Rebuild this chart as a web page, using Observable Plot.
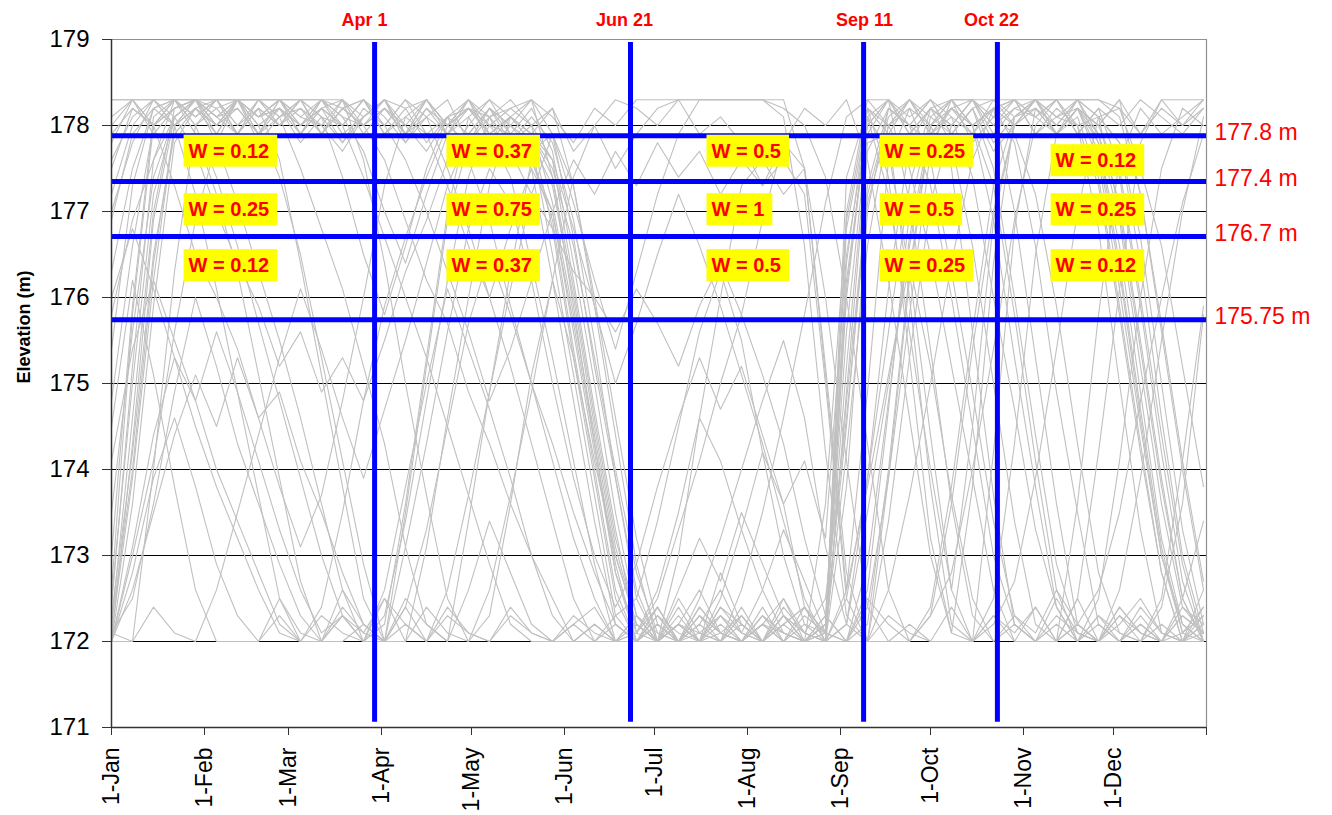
<!DOCTYPE html>
<html>
<head>
<meta charset="utf-8">
<script src="https://cdn.jsdelivr.net/npm/d3@7"></script>
<script src="https://cdn.jsdelivr.net/npm/@observablehq/plot@0.6"></script>
<style>
  html, body { margin: 0; padding: 0; background: #ffffff; }
  #chart { width: 1332px; height: 815px; }
</style>
</head>
<body>
<div id="chart"></div>
<script>
// ---------- data ----------
const weekDays = [0,7,14,21,28,35,42,49,56,63,70,77,84,91,98,105,112,119,126,133,140,147,154,161,168,175,182,189,196,203,210,217,224,231,238,245,252,259,266,273,280,287,294,301,308,315,322,329,336,343,350,357,364];

const monthStarts = [0,31,59,90,120,151,181,212,243,273,304,334];
const monthLabels = ["1-Jan","1-Feb","1-Mar","1-Apr","1-May","1-Jun","1-Jul","1-Aug","1-Sep","1-Oct","1-Nov","1-Dec"];
const yTicks = [171,172,173,174,175,176,177,178,179];
const gridLevels = [172,173,174,175,176,177,178];

const markerDays = [87.7, 173, 250.7, 295.3];
const markerLabels = ["Apr 1","Jun 21","Sep 11","Oct 22"];
const markerLabelDays = [84.3, 171, 251, 293.3];

const levelValues = [177.88, 177.35, 176.71, 175.74];
const levelLabels = ["177.8 m","177.4 m","176.7 m","175.75 m"];

const wText = ["W = 0.12","W = 0.25","W = 0.12",
               "W = 0.37","W = 0.75","W = 0.37",
               "W = 0.5","W = 1","W = 0.5",
               "W = 0.25","W = 0.5","W = 0.25",
               "W = 0.12","W = 0.25","W = 0.12"];
const wDay = [25.7,25.7,25.7, 113.3,113.3,113.3, 200,200,200, 257.7,257.7,257.7, 314.7,314.7,314.7];
const wElev = [177.70,177.02,176.37, 177.70,177.02,176.37, 177.70,177.02,176.37, 177.70,177.02,176.37, 177.59,177.02,176.37];

// weekly elevations (m) of the simulated years
const t1 = [172.2,174.6,177.0,178.2,178.3,178.0,178.3,178.1,178.3,177.9,
 178.2,178.0,178.3,178.1,177.8,178.2,177.9,178.1,177.7,178.0,
 177.8,176.5,175.1,173.7,172.3,172.0,172.2,172.0,172.4,172.1,
 172.0,172.3,172.0,172.2,172.1,177.4,178.2,177.9,178.3,178.0,
 178.2,177.9,178.3,178.1,178.2,177.9,178.2,177.8,176.4,174.7,
 173.1,172.1,172.3];
const t2 = [177.6,178.1,178.3,178.3,178.0,178.2,178.3,177.9,178.1,177.5,
 176.8,176.1,175.2,174.3,173.1,172.2,172.0,173.4,174.9,176.3,
 177.6,177.0,175.6,174.2,172.8,172.1,172.5,173.3,174.1,175.0,
 175.8,176.9,177.8,178.2,178.0,178.3,177.6,176.2,174.6,173.0,
 172.1,172.0,172.3,172.1,172.4,172.0,172.2,172.6,173.5,174.8,
 176.0,177.1,177.9];
const t3 = [172.0,173.1,174.4,175.3,174.8,175.6,174.9,174.1,173.3,172.6,
 172.1,172.3,172.0,172.6,173.8,175.0,176.1,175.4,174.7,173.9,
 173.0,172.3,172.0,172.2,172.0,172.1,172.4,172.0,172.2,172.6,
 172.1,172.0,172.3,172.1,172.0,174.8,177.2,178.1,178.3,177.9,
 178.2,178.0,176.9,175.3,173.8,172.4,172.0,172.3,172.1,172.0,
 172.5,174.1,175.9];
const t4 = [178.1,178.3,178.0,178.2,178.3,177.9,178.3,178.1,178.2,178.0,
 178.3,177.9,178.1,178.3,178.0,177.7,178.1,177.9,178.2,177.8,
 178.0,177.1,175.8,174.4,173.0,172.2,172.0,173.0,174.6,176.0,
 177.3,177.6,177.2,177.5,175.1,172.6,174.9,177.6,178.2,178.0,
 178.3,177.8,178.1,177.9,177.2,175.9,174.3,172.8,172.1,172.0,
 172.2,172.0,172.4];
const t5 = [176.3,177.5,178.2,178.3,178.0,177.4,176.6,175.7,174.8,173.9,
 173.0,172.3,172.0,172.2,173.6,175.3,177.0,178.1,178.3,177.9,
 178.2,177.7,176.4,175.0,173.5,172.3,172.0,172.2,172.1,172.0,
 172.3,172.0,172.2,172.4,172.1,176.8,178.1,177.2,175.6,174.0,
 172.6,174.5,176.9,178.0,178.3,178.1,178.3,177.9,176.9,175.2,
 173.6,172.4,172.1];
const t6 = [172.4,175.2,177.6,178.3,178.3,178.3,178.3,178.1,178.3,178.0,
 178.2,178.3,178.0,178.2,177.9,178.3,178.0,177.8,178.1,177.6,
 177.9,178.2,177.7,178.0,177.5,177.9,178.2,178.3,178.3,178.3,
 178.3,178.3,178.1,176.6,174.2,172.3,172.0,173.9,176.2,178.0,
 178.3,178.0,178.2,178.3,177.9,178.2,178.0,178.1,177.0,175.4,
 173.8,172.5,172.0];
const t7 = [172.1,172.5,173.6,174.9,176.0,175.2,174.3,173.6,172.9,172.3,
 172.0,172.4,172.1,172.0,172.5,172.2,172.0,172.6,173.4,172.8,
 172.2,172.0,172.3,172.1,172.0,172.2,172.0,172.5,172.1,172.0,
 172.3,172.0,172.4,172.1,172.0,172.6,173.8,175.1,176.4,175.2,
 173.7,172.5,172.0,172.3,172.1,172.6,172.2,172.0,172.4,172.1,
 172.0,172.3,172.1];
const t8 = [177.9,178.2,178.0,177.3,176.5,176.0,175.4,174.6,174.9,174.1,
 173.5,172.8,172.2,172.0,173.1,174.3,175.6,176.8,177.5,177.1,
 176.2,175.0,173.9,173.0,172.4,172.9,173.8,174.6,175.3,174.7,
 175.2,174.4,173.6,174.1,173.2,176.5,178.0,178.3,177.9,178.2,
 178.0,178.3,177.8,178.1,178.3,177.9,178.2,177.6,176.1,174.5,
 173.0,172.2,172.0];
const t9 = [177.2,178.0,178.3,178.1,178.3,178.2,177.9,178.3,178.0,178.3,
 178.1,177.8,178.2,178.0,178.3,177.9,178.1,178.2,178.0,177.9,
 177.5,176.2,174.8,173.4,172.2,172.0,172.3,172.1,172.0,172.4,
 172.2,172.0,172.3,172.0,173.6,176.9,178.2,177.4,175.3,173.2,
 172.1,173.8,176.4,178.1,178.3,177.9,178.2,178.0,177.4,175.9,
 174.2,172.7,172.0];
const t10 = [172.0,172.6,173.5,174.4,175.1,174.5,175.3,174.6,173.8,173.1,
 173.7,174.8,176.0,177.3,178.1,178.3,178.0,178.2,177.9,178.1,
 177.8,177.3,176.0,174.5,173.1,172.2,172.0,172.6,173.2,172.7,
 173.5,172.9,172.3,172.0,172.2,175.6,177.9,178.3,177.1,175.4,
 173.6,172.3,172.0,172.2,172.0,172.5,172.1,172.0,172.3,172.0,
 172.4,173.6,175.8];
const t11 = [175.4,177.3,178.2,178.3,178.1,178.3,178.0,178.2,177.6,176.4,
 175.1,173.8,172.5,172.0,172.2,172.0,172.3,172.1,172.0,172.4,
 172.1,172.0,172.2,172.0,172.3,172.5,173.4,174.5,175.6,176.3,
 175.5,174.2,173.0,172.2,172.0,174.9,177.7,178.2,178.0,178.3,
 177.9,178.2,177.5,176.0,174.4,172.9,172.1,172.0,172.3,172.1,
 172.0,172.4,172.2];
const t12 = [172.3,174.2,176.5,177.9,178.2,178.0,178.3,177.8,178.1,178.3,
 177.9,178.2,178.0,177.6,176.9,176.2,175.7,174.9,174.3,173.6,
 173.0,172.5,172.0,172.2,172.0,172.1,172.6,173.5,174.6,174.1,
 173.3,172.6,172.1,172.0,172.3,176.2,178.0,178.3,178.1,178.3,
 177.9,178.2,178.3,178.0,178.2,177.9,178.3,178.1,178.2,177.9,
 178.3,178.0,178.2];
const t13 = [176.0,176.8,176.1,175.3,174.5,173.8,173.2,172.6,172.1,172.0,
 172.4,173.5,174.8,175.9,176.7,177.4,178.0,178.2,177.9,178.1,
 177.9,177.6,176.8,175.9,175.0,175.7,176.5,177.2,176.6,175.9,
 175.1,174.3,173.4,172.5,172.0,172.2,173.5,175.0,176.6,177.9,
 178.2,178.0,177.3,175.8,174.1,172.6,172.0,172.2,172.0,172.4,
 172.1,172.0,172.6];
const t14 = [178.0,178.3,177.9,178.2,178.3,178.1,178.3,177.9,178.2,178.0,
 178.3,178.1,177.7,177.0,176.4,177.2,177.9,178.3,178.1,178.2,
 178.0,178.2,177.3,175.9,174.4,172.9,172.0,172.3,172.0,172.8,
 172.2,172.0,172.5,172.1,172.0,173.8,177.0,178.2,178.0,178.3,
 178.1,177.9,178.2,177.0,175.3,173.6,172.2,172.0,172.4,172.1,
 172.0,172.3,172.1];
const t15 = [172.1,173.9,176.2,178.0,178.2,177.9,178.3,178.0,177.4,176.5,
 175.3,174.1,172.9,172.0,173.5,175.2,176.9,177.8,178.2,177.9,
 177.6,176.9,175.4,174.0,172.6,172.0,172.2,172.0,172.3,172.1,
 172.0,172.2,172.5,172.0,172.1,176.0,178.1,178.3,177.9,178.2,
 177.8,176.6,175.0,173.4,172.2,172.0,173.6,175.8,177.6,178.2,
 177.9,178.1,178.3];
const t16 = [173.5,175.6,177.4,178.1,178.3,178.0,178.2,177.9,178.3,178.0,
 178.2,177.8,178.1,178.3,177.9,178.1,177.5,176.8,176.0,175.2,
 174.3,173.4,172.5,172.0,172.2,172.0,172.4,172.0,172.1,172.3,
 172.0,172.2,172.1,172.0,172.3,172.0,172.2,174.0,176.3,178.0,
 177.5,175.6,173.7,172.2,172.0,172.3,172.1,172.0,172.2,172.5,
 172.1,172.0,172.2];
const t17 = [172.5,175.0,177.2,178.1,178.3,178.0,178.3,178.1,178.2,177.8,
 178.1,177.4,176.5,175.8,176.6,177.5,178.1,178.3,178.0,178.2,
 178.3,178.1,177.8,178.2,178.0,178.3,178.3,178.3,178.3,178.3,
 178.3,178.3,178.2,178.0,177.4,176.0,174.3,172.6,172.0,172.4,
 173.8,175.6,177.3,178.1,178.3,177.9,178.2,177.7,176.3,174.6,
 173.0,172.1,172.0];
const t18 = [174.8,176.6,178.0,178.3,178.1,178.3,177.9,178.2,178.0,178.3,
 177.9,178.2,178.0,178.3,177.8,178.1,177.9,177.6,178.0,177.7,
 177.2,176.8,176.3,176.0,175.6,176.1,175.7,175.2,175.9,176.4,
 175.8,175.1,174.3,173.2,172.3,172.0,172.6,174.7,177.0,178.1,
 178.3,178.0,178.2,178.3,177.9,178.1,178.0,177.3,175.8,174.2,
 172.8,172.0,172.3];
const t19 = [172.0,172.8,173.9,174.6,173.8,172.9,172.3,172.0,172.5,172.1,
 172.0,172.6,172.2,172.0,172.4,173.3,174.5,175.7,176.5,175.8,
 175.0,174.1,173.2,172.5,172.0,172.3,172.0,172.2,172.6,172.1,
 172.0,172.4,172.0,172.3,172.1,172.0,172.5,172.2,172.0,172.3,
 172.8,174.0,175.4,176.9,178.0,178.3,177.9,178.2,177.5,176.0,
 174.4,172.9,172.0];
const t20 = [177.8,178.3,178.0,178.2,178.3,178.1,177.9,178.3,178.0,178.2,
 177.9,178.3,177.6,176.4,175.0,173.7,172.5,172.0,172.3,173.6,
 175.1,176.2,175.3,174.1,173.0,172.2,172.0,172.2,172.0,172.4,
 172.1,172.0,172.3,172.0,172.2,174.5,177.3,178.2,178.0,177.8,
 178.2,178.3,178.0,178.3,178.1,177.9,178.2,178.0,178.3,177.2,
 175.6,174.0,172.6];
const t21 = [172.2,174.0,176.4,178.0,178.3,178.1,178.2,177.9,178.3,178.1,
 178.0,178.3,177.9,178.2,178.0,178.3,177.9,178.2,177.9,178.1,
 177.9,176.8,175.3,173.9,172.5,172.0,172.3,172.0,172.4,172.1,
 172.0,172.3,172.1,172.0,172.2,175.2,177.8,177.9,176.0,173.8,
 172.2,172.0,174.2,176.8,178.2,178.0,178.3,178.1,177.8,176.7,
 175.0,173.3,172.2];
const t22 = [172.1,172.0,172.4,172.1,172.0,172.6,173.5,174.4,175.3,176.1,
 175.4,174.6,173.9,174.7,175.5,176.4,177.3,177.9,178.2,178.0,
 178.3,177.9,176.7,175.2,173.9,172.6,172.0,172.2,172.0,172.1,
 172.3,172.0,172.2,172.4,172.0,172.2,173.9,176.1,177.8,178.2,
 178.0,178.3,177.9,178.2,178.1,178.3,177.9,178.2,178.0,178.3,
 178.1,177.9,178.2];
const t23 = [176.9,177.9,178.2,178.0,178.3,178.1,178.3,178.0,178.2,177.9,
 178.3,178.1,178.0,178.2,177.9,178.3,178.0,178.2,178.1,177.8,
 178.1,177.8,176.9,175.5,173.9,172.5,172.0,172.2,172.0,172.3,
 172.1,172.6,173.3,172.7,172.1,172.0,172.4,173.9,175.8,177.7,
 178.3,178.0,178.2,177.8,176.6,174.9,173.5,172.2,172.0,172.3,
 172.0,172.1,172.4];
const t24 = [175.8,176.9,177.6,178.1,177.7,177.0,176.4,175.9,175.2,175.6,
 174.9,175.3,174.8,175.5,176.3,176.9,177.6,178.0,178.3,178.1,
 177.9,177.4,176.1,174.6,173.2,172.3,172.0,172.4,172.0,172.2,
 172.0,172.3,172.1,172.0,172.2,176.4,178.2,178.0,178.3,178.1,
 177.9,178.2,177.7,178.0,178.3,178.1,178.2,177.9,177.1,175.5,
 173.9,172.5,172.0];
const t25 = [172.0,174.3,176.9,178.1,178.3,177.8,177.1,176.3,175.5,174.6,
 173.6,172.6,172.0,172.3,173.4,174.8,176.2,177.4,178.1,178.3,
 178.0,177.6,176.2,174.7,173.3,172.1,172.0,172.2,172.0,172.5,
 173.3,174.2,173.6,172.4,172.0,176.1,178.1,177.7,176.3,174.4,
 172.6,172.0,172.5,174.3,176.5,177.9,178.2,178.0,178.3,177.9,
 178.2,178.0,178.3];
const t26 = [177.5,178.2,178.0,178.3,177.9,177.2,176.3,175.1,173.9,172.7,
 172.0,172.3,172.1,172.5,172.0,172.4,172.1,172.0,172.6,173.7,
 174.9,176.2,177.4,178.0,178.3,178.2,178.0,178.3,177.9,178.1,
 177.8,177.3,177.6,177.2,175.0,172.5,172.0,172.3,172.1,172.0,
 172.4,172.0,172.2,172.7,173.9,175.4,177.0,178.1,177.8,176.4,
 174.6,173.0,172.1];
const t27 = [172.6,175.8,178.0,178.3,178.1,178.3,177.9,178.2,178.0,178.3,
 178.1,178.0,178.3,177.9,178.1,177.9,177.3,176.6,176.0,176.8,
 177.5,177.0,175.7,174.3,172.9,172.0,172.2,172.0,172.3,172.1,
 172.0,172.2,172.0,172.4,172.1,177.0,178.3,178.0,178.2,177.6,
 176.3,174.9,173.4,172.3,172.0,172.2,172.0,172.5,174.1,176.0,
 177.5,178.2,178.0];
const t28 = [174.1,175.4,176.2,175.5,174.8,174.0,173.4,172.8,172.2,172.0,
 172.3,172.1,172.0,172.5,172.2,172.0,172.4,172.1,172.0,172.3,
 172.1,172.0,172.2,172.4,172.0,172.3,172.1,172.0,172.5,173.2,
 174.0,174.8,175.5,174.6,173.1,172.2,172.0,172.6,173.7,175.0,
 176.4,177.6,178.2,178.0,178.3,177.9,178.1,177.4,175.9,174.3,
 172.8,172.0,172.2];
const t29 = [172.0,173.6,175.9,177.8,178.2,178.0,178.3,178.1,178.3,177.9,
 178.2,178.0,178.3,177.9,178.2,177.8,178.1,177.6,176.9,175.9,
 175.0,174.3,173.5,172.8,172.2,172.0,172.3,172.0,172.2,172.0,
 172.4,172.0,172.2,172.0,172.1,174.2,176.6,178.0,178.3,177.9,
 178.1,177.4,176.0,174.7,173.3,172.4,172.0,172.3,172.0,172.2,
 172.0,172.5,173.4];
const t30 = [177.0,177.8,178.3,178.0,178.2,178.3,178.0,178.3,178.1,178.2,
 178.0,177.7,178.1,178.3,177.9,178.2,178.0,178.3,177.8,178.1,
 177.9,177.5,176.6,175.3,174.0,172.8,172.1,172.0,172.3,172.0,
 172.2,172.0,172.3,172.1,172.5,174.6,177.1,178.0,177.5,176.5,
 175.2,173.9,172.6,172.0,172.4,172.0,172.2,172.0,172.6,173.9,
 175.5,177.0,178.1];
const t31 = [174.5,176.2,175.1,173.8,172.6,172.0,172.0,172.0,172.3,172.0,
 172.0,172.0,172.2,172.0,172.0,173.1,174.6,176.0,177.3,178.1,
 178.3,177.4,175.9,174.3,172.8,172.0,172.0,172.0,172.0,172.0,
 172.0,172.2,172.0,172.0,172.0,172.0,172.0,173.4,175.3,177.1,
 178.0,178.3,178.3,178.3,178.1,178.3,178.0,176.8,175.0,173.3,
 172.1,172.0,172.0];
const t32 = [178.3,178.3,178.3,178.3,178.3,178.3,178.3,178.3,178.1,178.3,
 177.9,178.2,178.3,178.0,177.6,177.0,176.3,175.6,174.8,175.4,
 176.2,177.0,177.6,177.2,177.7,177.3,177.8,177.4,177.7,177.2,
 177.6,177.3,177.8,177.5,176.0,174.1,172.4,172.0,172.0,172.3,
 173.6,175.4,177.0,178.0,178.3,178.3,178.3,178.3,178.1,177.2,
 175.7,174.1,172.7];
const t33 = [178.3,178.3,178.3,178.0,177.2,176.1,174.9,173.7,172.5,172.0,
 172.0,172.3,172.0,172.0,172.4,172.0,172.6,173.7,174.9,176.1,
 177.2,177.9,177.3,176.0,174.6,173.2,172.2,172.0,172.0,172.0,
 172.0,172.0,172.0,172.0,172.0,172.5,173.9,175.6,177.3,178.2,
 178.3,178.3,178.0,178.2,178.3,178.3,178.3,177.8,176.6,174.9,
 173.2,172.2,172.0];
const t34 = [172.0,172.0,174.0,176.3,178.0,178.3,178.3,178.3,178.3,178.3,
 178.3,178.0,177.4,176.7,176.0,175.3,174.5,173.7,172.9,172.2,
 172.0,172.0,172.0,172.0,172.0,172.0,172.4,172.0,172.0,172.0,
 172.6,173.5,174.6,175.8,177.1,178.1,178.3,178.3,178.0,177.3,
 176.0,174.5,173.0,172.2,172.0,172.0,172.5,174.2,176.1,177.8,
 178.3,178.3,178.3];
const t35 = [173.0,175.9,178.1,178.3,178.3,178.3,178.3,178.3,178.3,178.1,
 178.3,178.2,178.3,178.0,178.3,178.1,178.3,177.8,178.2,178.0,
 177.7,177.9,177.1,176.2,175.4,176.3,177.2,177.9,178.3,178.3,
 178.3,178.3,178.3,177.5,175.2,172.8,172.0,172.0,172.2,172.0,
 172.0,172.0,172.3,172.0,172.0,172.0,172.5,172.0,172.0,172.2,
 172.0,172.0,172.1];
const t36 = [172.0,173.0,174.1,175.6,176.9,177.8,178.3,178.3,178.3,178.3,
 178.3,178.3,178.1,178.3,178.2,178.3,178.0,178.3,177.9,177.4,
 176.4,175.3,174.1,172.9,172.0,172.0,172.0,172.0,172.0,172.3,
 172.0,172.0,172.0,172.0,172.0,172.0,172.9,174.8,176.7,178.0,
 178.3,178.3,178.1,178.3,178.3,178.0,178.3,178.3,178.2,177.5,
 176.6,175.2,173.8];

const traces = [t1,t2,t3,t4,t5,t6,t7,t8,t9,t10,t11,t12,t13,t14,t15,t16,t17,t18,
                t19,t20,t21,t22,t23,t24,t25,t26,t27,t28,t29,t30,t31,t32,t33,t34,t35,t36];

// ---------- tables built from the arrays ----------
const table = traces.flatMap((vals, i) => vals.map((v, w) => ({trace: i, day: weekDays[w], elev: v})));
const markers = markerDays.map((d, i) => ({day: d, labelDay: markerLabelDays[i], label: markerLabels[i]}));
const levels = levelValues.map((v, i) => ({elev: v, label: levelLabels[i]}));
const wLabels = wText.map((t, i) => ({text: t, day: wDay[i], elev: wElev[i]}));
const xTicks = [...monthStarts, 365];
const xLabelOf = new Map(monthStarts.map((d, i) => [d, monthLabels[i]]));

const FONT = "'Liberation Sans', Arial, Helvetica, sans-serif";
const RED = "#ff0000";
const BLUE = "#0000ff";

const chart = Plot.plot({
  width: 1332,
  height: 815,
  marginLeft: 111,
  marginRight: 126,
  marginTop: 39,
  marginBottom: 88,
  style: {fontFamily: FONT, background: "#ffffff", color: "#000000", overflow: "visible"},
  x: {domain: [0, 365]},
  y: {domain: [171, 179]},
  marks: [
    // gridlines and frame
    Plot.ruleY(gridLevels, {stroke: "#000000", strokeWidth: 1}),
    Plot.ruleY([179], {stroke: "#909090", strokeWidth: 1.2}),
    Plot.ruleX([365], {stroke: "#909090", strokeWidth: 1.2}),
    // simulated elevation traces
    Plot.line(table, {x: "day", y: "elev", z: "trace", stroke: "#c0c0c0", strokeWidth: 1.1}),
    // blue threshold lines
    Plot.ruleY(levels, {y: "elev", stroke: BLUE, strokeWidth: 5}),
    Plot.ruleX(markers, {x: "day", y1: 171.06, y2: 178.965, stroke: BLUE, strokeWidth: 5}),
    // axes lines
    Plot.ruleX([0], {stroke: "#333333", strokeWidth: 1.5}),
    Plot.ruleY([171], {stroke: "#333333", strokeWidth: 1.5}),
    Plot.axisY({ticks: yTicks, tickSize: 9, tickPadding: 13, fontSize: 24, label: null, stroke: "#333333"}),
    Plot.axisX({ticks: xTicks, tickFormat: d => xLabelOf.get(d) ?? "", tickRotate: -90, tickSize: 8, tickPadding: 12, fontSize: 23, label: null, stroke: "#333333"}),
    Plot.text(["Elevation (m)"], {frameAnchor: "left", dx: -87, rotate: -90, fontWeight: "bold", fontSize: 18, fill: "#000000"}),
    // annotations
    Plot.text(markers, {x: "labelDay", y: 179, text: "label", dy: -19, fill: RED, fontWeight: "bold", fontSize: 18}),
    Plot.text(levels, {x: 365, y: "elev", text: "label", dx: 8, dy: -3, textAnchor: "start", fill: RED, fontSize: 23}),
    Plot.text(wLabels, {x: "day", y: "elev", text: "text", textAnchor: "start", fill: RED, fontWeight: "bold", fontSize: 20})
  ]
});

document.getElementById("chart").append(chart);

// yellow boxes behind the W labels
chart.querySelectorAll("text").forEach(t => {
  if (!t.textContent.startsWith("W =")) return;
  const bb = t.getBBox();
  const r = document.createElementNS("http://www.w3.org/2000/svg", "rect");
  const cy = bb.y + bb.height / 2;
  r.setAttribute("x", bb.x - 5);
  r.setAttribute("y", cy - 16);
  r.setAttribute("width", bb.width + 13);
  r.setAttribute("height", 32);
  r.setAttribute("fill", "#ffff00");
  const tr = t.getAttribute("transform");
  if (tr) r.setAttribute("transform", tr);
  t.parentNode.insertBefore(r, t);
});
</script>
</body>
</html>
